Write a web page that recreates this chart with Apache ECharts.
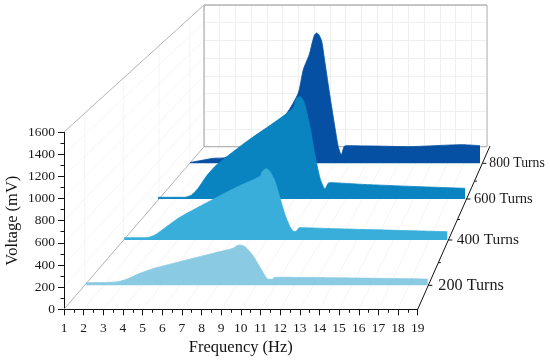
<!DOCTYPE html>
<html>
<head>
<meta charset="utf-8">
<style>html,body{margin:0;padding:0;background:#fff}#c{width:550px;height:361px}</style>
<script src="https://cdn.jsdelivr.net/npm/echarts@6/dist/echarts.min.js"></script>
</head>
<body>
<div id="c"></div>
<script>
// ---- data ----
const turnLabels = ['200 Turns', '400 Turns', '600 Turns', '800 Turns'];
const freqTicks = [1, 19];
const voltageRange = [0, 1600];

const freq200 = [1, 2.6, 3.14, 3.84, 4.53, 5.95, 7.36, 8.74, 8.95, 9.11, 9.38, 9.8, 10.25, 10.6, 10.8, 10.95, 13, 16, 19];
const volt200 = [24, 31, 56, 112, 155, 221, 284, 345, 370, 377, 361, 277, 143, 56, 56, 75, 72, 66, 59];

const freq400 = [1, 2.25, 2.71, 3.36, 4.1, 5.96, 7.26, 8.56, 8.7, 8.9, 9.12, 9.4, 9.68, 9.96, 10.23, 10.46, 10.6, 10.75, 13, 16, 19];
const volt400 = [23, 23, 50, 132, 225, 403, 522, 628, 677, 704, 677, 578, 413, 248, 132, 83, 89, 122, 110, 96, 82];

const freq600 = [1, 2.58, 2.97, 3.35, 3.85, 4.44, 6.2, 7.76, 8.93, 9.13, 9.33, 9.56, 9.91, 10.2, 10.5, 10.79, 10.97, 11.08, 13, 16, 19];
const volt600 = [18, 18, 42, 111, 240, 355, 598, 789, 946, 1050, 1064, 1012, 754, 459, 216, 104, 163, 170, 152, 130, 111];

const freq800 = [1, 2.45, 3.17, 4, 5, 6, 7, 7.72, 8.03, 8.4, 8.55, 8.72, 8.86, 9, 9.18, 9.38, 9.69, 10, 10.2, 10.39, 10.56, 10.7, 12.5, 14.5, 17.9, 19];
const volt800 = [8, 55, 62, 130, 260, 400, 550, 773, 1030, 1195, 1300, 1410, 1435, 1415, 1340, 1104, 736, 390, 184, 92, 184, 194, 190, 183, 205, 194];

const seriesFreq = [freq200, freq400, freq600, freq800];
const seriesVolt = [volt200, volt400, volt600, volt800];

// ---- layout of the fake-3D box (pixels) ----
const front = { left: 64, width: 353.7, base: 309.3, height: 177.3 };
const back = { left: 204, width: 283, base: 146.7, height: 141.7 };
const planes = [
  { left: 86, width: 341.7, base: 285.3 },
  { left: 124.3, width: 323, base: 240 },
  { left: 158, width: 307, base: 199 },
  { left: 190, width: 290, base: 163.3 }
];
const colors = ['#8BCAE3', '#39AEDA', '#0A84C1', '#0550A2'];
const labelFont = [16.2, 15.4, 14.5, 13.7];
const labelLeft = [438.3, 456.7, 474, 489.3];
const serif = '"Liberation Serif", "Times New Roman", serif';
const frameColor = '#b4b4b4', faint = '#efefef';

function plotRect(p, h) { return { left: p.left, width: p.width, top: p.base - h, height: h }; }
const grids = [plotRect(back, back.height), plotRect(front, front.height)];
const xAxes = [], yAxes = [], series = [];

const hiddenX = { type: 'value', min: freqTicks[0], max: freqTicks[1], show: false };
const hiddenY = { type: 'value', min: voltageRange[0], max: voltageRange[1], show: false };

// back wall with its grid lines
xAxes.push({ type: 'value', gridIndex: 0, min: freqTicks[0], max: freqTicks[1], interval: 1,
  axisLine: { show: false }, axisTick: { show: false }, axisLabel: { show: false },
  splitLine: { show: true, lineStyle: { color: faint, width: 1 } } });
yAxes.push({ type: 'value', gridIndex: 0, min: voltageRange[0], max: voltageRange[1], interval: 200,
  axisLine: { show: false }, axisTick: { show: false }, axisLabel: { show: false },
  splitLine: { show: true, lineStyle: { color: faint, width: 1 } } });

// front axes
const axisLineStyle = { color: '#111', width: 1 };
const tickLabel = { fontFamily: serif, fontSize: 13.5, color: '#1a1a1a', formatter: (v) => String(v) };
xAxes.push({ type: 'value', gridIndex: 1, min: freqTicks[0], max: freqTicks[1], interval: 1,
  name: 'Frequency (Hz)', nameLocation: 'middle', nameGap: 30, nameMoveOverlap: false,
  nameTextStyle: { fontFamily: serif, fontSize: 16.5, color: '#111' },
  axisLine: { show: true, onZero: false, lineStyle: axisLineStyle },
  axisTick: { show: true, length: 6, lineStyle: axisLineStyle },
  minorTick: { show: true, splitNumber: 2, length: 3.5, lineStyle: axisLineStyle },
  axisLabel: Object.assign({ margin: 12, hideOverlap: false, showMinLabel: true, showMaxLabel: true }, tickLabel),
  splitLine: { show: false } });
yAxes.push({ type: 'value', gridIndex: 1, min: voltageRange[0], max: voltageRange[1], interval: 200,
  name: 'Voltage (mV)', nameLocation: 'middle', nameGap: 43, nameRotate: 90, nameMoveOverlap: false,
  nameTextStyle: { fontFamily: serif, fontSize: 16.5, color: '#111' },
  axisLine: { show: true, onZero: false, lineStyle: axisLineStyle },
  axisTick: { show: true, length: 6, lineStyle: axisLineStyle },
  minorTick: { show: true, splitNumber: 2, length: 3.5, lineStyle: axisLineStyle },
  axisLabel: Object.assign({ margin: 9, showMinLabel: true, showMaxLabel: true }, tickLabel),
  splitLine: { show: false } });

// one flat plot per depth, scaled by perspective; farthest is drawn first
for (let i = planes.length - 1; i >= 0; i--) {
  const p = planes[i];
  const g = grids.length;
  const h = p.width * front.height / front.width;
  grids.push(plotRect(p, h));
  xAxes.push(Object.assign({ gridIndex: g }, hiddenX));
  yAxes.push(Object.assign({ gridIndex: g }, hiddenY));
  series.push({
    name: turnLabels[i], type: 'line', xAxisIndex: g, yAxisIndex: g,
    data: seriesFreq[i].map((f, k) => [f, seriesVolt[i][k]]),
    symbol: 'none', smooth: 0.2, clip: false,
    z: 5 + (planes.length - i),
    lineStyle: { color: colors[i], width: 0.8 },
    itemStyle: { color: colors[i] },
    areaStyle: { color: colors[i], opacity: 1, origin: 'start' }
  });
}

// frame of the box
const graphics = [];
function seg(x1, y1, x2, y2, color, width, z) {
  graphics.push({ type: 'line', z: z || 0, silent: true,
    shape: { x1, y1, x2, y2 }, style: { stroke: color, lineWidth: width } });
}
const steps = 18;
for (let k = 1; k < steps; k++) {
  seg(front.left + front.width * k / steps, front.base,
      back.left + back.width * k / steps, back.base, '#f1f1f1', 0.8);
}
for (let v = 200; v < 1600; v += 200) {
  seg(front.left, front.base - front.height * v / 1600,
      back.left, back.base - back.height * v / 1600, '#f3f3f3', 0.8);
}
const edgeX = (y) => front.left + (front.base - y) / (front.base - back.base) * (back.left - front.left);
planes.forEach((p) => {
  const t = (front.base - p.base) / (front.base - back.base);
  const topY = (front.base - front.height) + t * ((back.base - back.height) - (front.base - front.height));
  seg(edgeX(p.base), p.base, edgeX(p.base), topY, '#f1f1f1', 0.8);
});
// frame edges
seg(front.left, front.base, back.left, back.base, frameColor, 1, 1);
seg(front.left, front.base - front.height, back.left, back.base - back.height, frameColor, 1, 1);
seg(back.left, back.base, back.left + back.width, back.base, frameColor, 1.3, 1);
seg(back.left, back.base, back.left, back.base - back.height, frameColor, 1.3, 1);
seg(back.left, back.base - back.height, back.left + back.width, back.base - back.height, frameColor, 1.3, 1);
seg(back.left + back.width, back.base, back.left + back.width, back.base - back.height, frameColor, 1, 1);

// depth axis
const depthEnd = { x: 490, y: 146 };
const depthX = (y) => front.left + front.width + (front.base - y) / (front.base - depthEnd.y) * (depthEnd.x - front.left - front.width);
seg(front.left + front.width, front.base, depthEnd.x, depthEnd.y, '#111', 1, 20);
planes.forEach((p, i) => {
  seg(depthX(p.base), p.base, depthX(p.base) + 4, p.base, '#111', 1, 20);
  graphics.push({ type: 'text', z: 20, silent: true, x: labelLeft[i], y: p.base,
    style: { text: turnLabels[i], fontFamily: serif, fontSize: labelFont[i], fill: '#1a1a1a',
      textAlign: 'left', textVerticalAlign: 'middle', textBaseline: 'middle' } });
});
for (let i = 0; i < planes.length - 1; i++) {
  const y = (planes[i].base + planes[i + 1].base) / 2;
  seg(depthX(y), y, depthX(y) + 2.5, y, '#111', 1, 20);
}

const chart = echarts.init(document.getElementById('c'), null, { renderer: 'canvas', width: 550, height: 361 });
chart.setOption({
  animation: false,
  backgroundColor: '#ffffff',
  grid: grids.map((g) => Object.assign({ containLabel: false, show: false, outerBoundsMode: 'none' }, g)),
  xAxis: xAxes,
  yAxis: yAxes,
  series: series,
  graphic: graphics
});
</script>
</body>
</html>
